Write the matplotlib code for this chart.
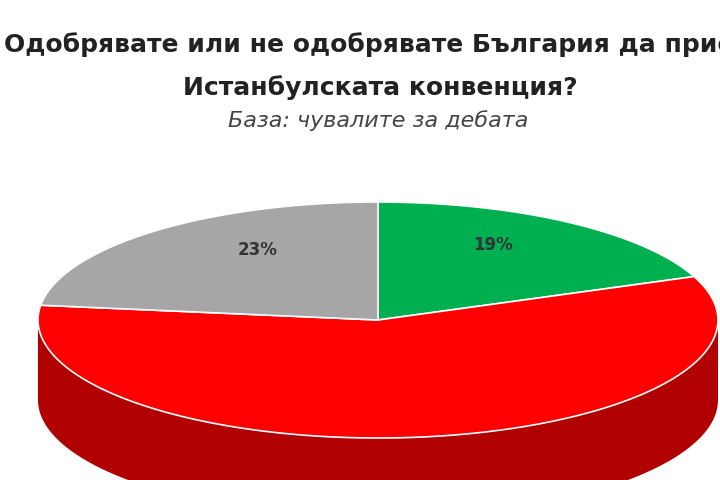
import numpy as np
import matplotlib

matplotlib.use("Agg")
import matplotlib.pyplot as plt
from matplotlib.patches import Polygon

labels = ["19%", "58%", "23%"]
shares = [19, 58, 23]
top_colors = ["#00b050", "#ff0000", "#a6a6a6"]
side_colors = ["#006e30", "#b00000", "#6e6e6e"]
label_pos = [(493, 245), None, (258, 250)]

CX, CY, A, B, DEPTH = 378, 320, 340, 118, 80


def pt(t, dy=0):
    return CX + A * np.sin(t), CY - B * np.cos(t) + dy


fig = plt.figure(figsize=(7.2, 4.8), dpi=100)
ax = fig.add_axes([0, 0, 1, 1])
ax.set_xlim(0, 720)
ax.set_ylim(480, 0)
ax.axis("off")

bounds = np.cumsum([0] + shares) / 100 * 2 * np.pi

# side walls (front half only)
for i in range(len(shares)):
    lo, hi = max(bounds[i], np.pi / 2), min(bounds[i + 1], 3 * np.pi / 2)
    if hi <= lo:
        continue
    t = np.linspace(lo, hi, 200)
    x, y = pt(t)
    xs = np.concatenate([x, x[::-1]])
    ys = np.concatenate([y, (y + DEPTH)[::-1]])
    ax.add_patch(Polygon(np.column_stack([xs, ys]), closed=True,
                         fc=side_colors[i], ec="none"))

# top faces
for i in range(len(shares)):
    t = np.linspace(bounds[i], bounds[i + 1], 200)
    x, y = pt(t)
    xs = np.concatenate([[CX], x])
    ys = np.concatenate([[CY], y])
    ax.add_patch(Polygon(np.column_stack([xs, ys]), closed=True,
                         fc=top_colors[i], ec="white", lw=1.2))

for lab, pos in zip(labels, label_pos):
    if pos:
        ax.text(*pos, lab, ha="center", va="center", fontsize=12,
                fontweight="bold", color="#333333")

ax.text(388, 45, "Одобрявате или не одобрявате България да приеме",
        ha="center", va="center", fontsize=18, fontweight="bold", color="#222222")
ax.text(380, 88, "Истанбулската конвенция?",
        ha="center", va="center", fontsize=18, fontweight="bold", color="#222222")
ax.text(378, 121, "База: чувалите за дебата", ha="center", va="center",
        fontsize=16, style="italic", color="#444444")

fig.savefig("out.png", dpi=100)
